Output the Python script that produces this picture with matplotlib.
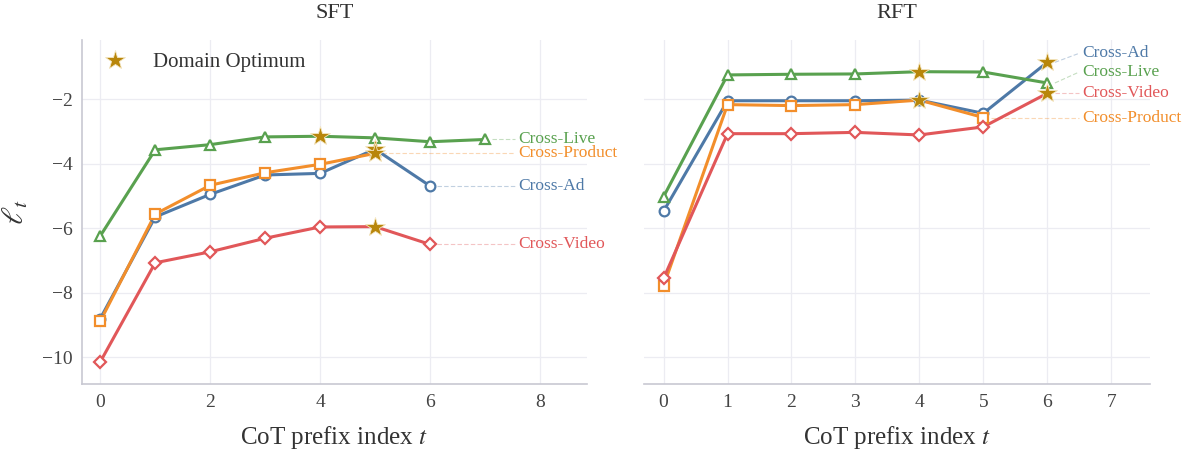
import numpy as np
import matplotlib
matplotlib.use("Agg")
from matplotlib import pyplot as plt

plt.rcParams['font.family'] = ['Liberation Serif', 'DejaVu Serif']
plt.rcParams['mathtext.fontset'] = 'stix'

series = ['Cross-Ad', 'Cross-Product', 'Cross-Live', 'Cross-Video']
colors = {'Cross-Ad': '#4e79a7', 'Cross-Product': '#f28e2b',
          'Cross-Live': '#59a14f', 'Cross-Video': '#e15759'}
markers = {'Cross-Ad': 'o', 'Cross-Product': 's', 'Cross-Live': '^', 'Cross-Video': 'D'}
star_color = '#b8860b'

# per-prefix log-likelihood, SFT model
sft_ad = [-8.80, -5.65, -4.95, -4.35, -4.30, -3.55, -4.69]
sft_product = [-8.88, -5.56, -4.67, -4.28, -4.02, -3.68]
sft_live = [-6.24, -3.57, -3.41, -3.17, -3.15, -3.20, -3.32, -3.25]
sft_video = [-10.14, -7.07, -6.73, -6.31, -5.96, -5.95, -6.50]

# per-prefix log-likelihood, RFT model
rft_ad = [-5.47, -2.05, -2.05, -2.05, -2.03, -2.44, -0.86]
rft_product = [-7.78, -2.17, -2.20, -2.17, -2.03, -2.57]
rft_live = [-5.02, -1.25, -1.23, -1.22, -1.15, -1.16, -1.50]
rft_video = [-7.55, -3.07, -3.07, -3.03, -3.11, -2.86, -1.82]

sft = {'Cross-Ad': sft_ad, 'Cross-Product': sft_product,
       'Cross-Live': sft_live, 'Cross-Video': sft_video}
rft = {'Cross-Ad': rft_ad, 'Cross-Product': rft_product,
       'Cross-Live': rft_live, 'Cross-Video': rft_video}

fig = plt.figure(figsize=(11.9, 4.5), dpi=100)
ax1 = fig.add_axes([0.069, 0.147, 0.424, 0.764])
ax2 = fig.add_axes([0.541, 0.147, 0.425, 0.764], sharey=ax1)


def draw_panel(ax, data, title, label_x, nudges, xticks, xlim):
    for name in series:
        vals = np.array(data[name])
        xs = np.arange(len(vals))
        c = colors[name]
        best = int(np.argmax(vals))
        ax.plot(xs, vals, color=c, lw=2.2, zorder=3)
        keep = xs != best
        ax.plot(xs[keep], vals[keep], ls='none', marker=markers[name],
                ms=7 if markers[name] != 'D' else 6.5, mfc='white', mec=c,
                mew=1.6, zorder=4)
        ax.plot(best, vals[best], ls='none', marker='*', ms=15, color=star_color,
                mec='#f5e6c0', mew=0.6, zorder=5)
        # dashed leader to the end label
        ly = vals[-1] + nudges.get(name, 0.0)
        ax.plot([xs[-1] + 0.12, label_x - 0.05], [vals[-1], ly], color=c,
                lw=0.8, ls=(0, (4, 2)), alpha=0.35, zorder=2)
        ax.text(label_x, ly, name, color=c, fontsize=12.5, va='center', ha='left')

    ax.set_title(title, fontsize=16, color='#333333', pad=16)
    ax.set_xlabel(r'CoT prefix index $t$', fontsize=18, color='#333333', labelpad=10)
    ax.set_xticks(xticks)
    ax.set_xlim(*xlim)
    ax.grid(True, color='#ececf2', lw=0.9, zorder=0)
    ax.set_axisbelow(True)
    for s in ['top', 'right']:
        ax.spines[s].set_visible(False)
    for s in ['left', 'bottom']:
        ax.spines[s].set_color('#c8c8d2')
        ax.spines[s].set_linewidth(1.2)
    ax.tick_params(labelsize=14, colors='#444444', length=0, pad=7)


draw_panel(ax1, sft, 'SFT', 7.6, {}, [0, 2, 4, 6, 8], (-0.33, 8.85))
draw_panel(ax2, rft, 'RFT', 6.55, {'Cross-Ad': 0.28, 'Cross-Live': 0.34},
           list(range(8)), (-0.31, 7.6))

ax1.set_ylim(-10.82, -0.17)
ax1.set_yticks([-10, -8, -6, -4, -2])
ax1.set_ylabel(r'$\ell_t$', fontsize=22, color='#333333', labelpad=8)
ax2.spines['left'].set_visible(False)
ax2.tick_params(labelleft=False)

ax1.plot([], [], ls='none', marker='*', ms=15, color=star_color,
         mec='#f5e6c0', mew=0.6, label='Domain Optimum')
leg = ax1.legend(loc='upper left', frameon=False, fontsize=15, handletextpad=0.8,
                 borderaxespad=0.2, bbox_to_anchor=(0.0, 1.0))
for t in leg.get_texts():
    t.set_color('#333333')

plt.savefig('out.png', dpi=100, facecolor='white')
